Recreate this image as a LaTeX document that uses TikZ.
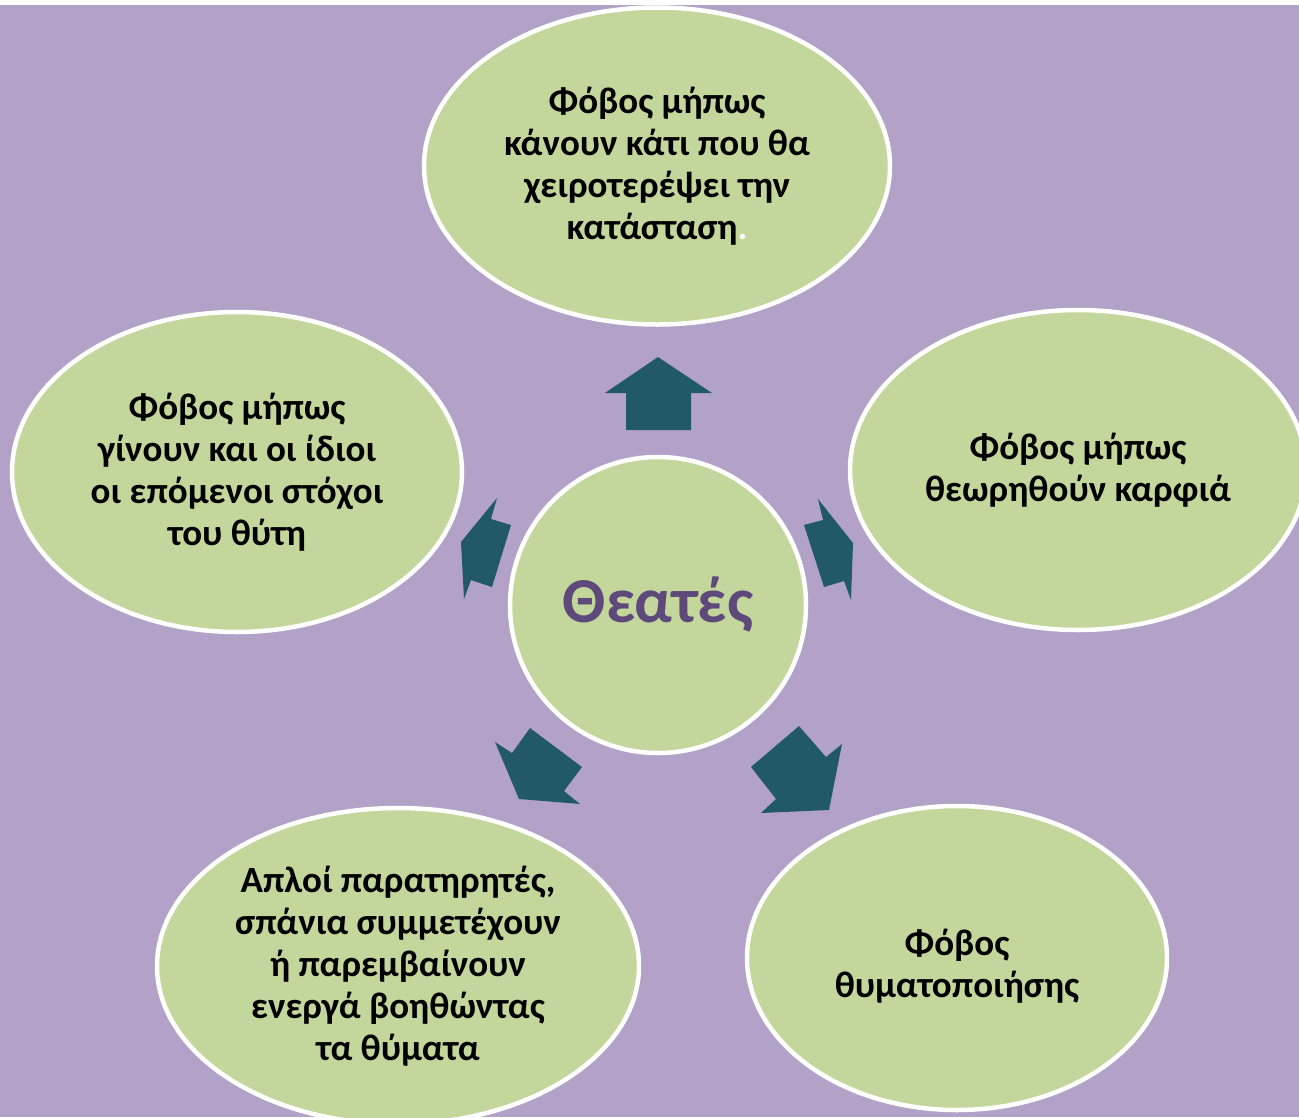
\documentclass[tikz,border=0pt]{standalone}
\usepackage{fontspec}
\setmainfont{Carlito}
\usetikzlibrary{shapes.geometric}
\definecolor{bgpurple}{HTML}{B2A2C7}
\definecolor{leaf}{HTML}{C3D69B}
\definecolor{arrowteal}{HTML}{215968}
\definecolor{titlepurple}{HTML}{5F497A}
\begin{document}
\begin{tikzpicture}[x=1pt,y=-1pt,
  bubble/.style={ellipse, draw=white, line width=4.5pt, fill=leaf, inner sep=0pt,
    align=center, text=black, font=\fontsize{37}{42}\selectfont\bfseries},
  hub/.style={circle, draw=white, line width=4.5pt, fill=leaf, inner sep=0pt,
    minimum size=296pt, text=titlepurple, font=\fontsize{64}{78}\selectfont\bfseries},
  blockarrow/.style={fill=arrowteal, draw=none}]
\useasboundingbox (0,0) rectangle (1299,1117);
\clip (0,0) rectangle (1299,1117);
\fill[bgpurple] (0,0) rectangle (1299,1117);

% block arrows
\fill[blockarrow] (658,357) -- (712,393) -- (691,393) -- (691,430) -- (626,430) -- (626,393) -- (605,393) -- cycle;
\fill[blockarrow] (461,542) -- (497,498) -- (491,519) -- (511,525) -- (492,587) -- (471,580) -- (464,599) -- cycle;
\fill[blockarrow] (853,543) -- (818,499) -- (823,520) -- (804,525) -- (824,587) -- (844,581) -- (851,600) -- cycle;
\fill[blockarrow] (519,799) -- (495,742) -- (512,753) -- (530,728) -- (582,767) -- (564,791) -- (580,804) -- cycle;
\fill[blockarrow] (829,810) -- (842,744) -- (826,757) -- (799,726) -- (751,767) -- (776,799) -- (761,813) -- cycle;

% nodes
\node[hub] (hub) at (658,605) {Θεατές};
\node[bubble, minimum width=466pt, minimum height=317pt] (top) at (657,166)
  {Φόβος μήπως\\κάνουν κάτι που θα\\χειροτερέψει την\\κατάσταση\textcolor{white}{.}};
\node[bubble, minimum width=450pt, minimum height=320pt] (left) at (237,472)
  {Φόβος μήπως\\γίνουν και οι ίδιοι\\οι επόμενοι στόχοι\\του θύτη};
\node[bubble, minimum width=456pt, minimum height=320pt] (right) at (1078,470)
  {Φόβος μήπως\\θεωρηθούν καρφιά};
\node[bubble, minimum width=482pt, minimum height=316pt] (botleft) at (398,966)
  {Απλοί παρατηρητές,\\σπάνια συμμετέχουν\\ή παρεμβαίνουν\\ενεργά βοηθώντας\\τα θύματα};
\node[bubble, minimum width=420pt, minimum height=304pt] (botright) at (957,958)
  {};
\node[align=center, font=\fontsize{37}{42}\selectfont\bfseries] (botrighttext) at (957,966)
  {Φόβος\\θυματοποιήσης};

\fill[white] (0,0) rectangle (1299,5);
\end{tikzpicture}
\end{document}
